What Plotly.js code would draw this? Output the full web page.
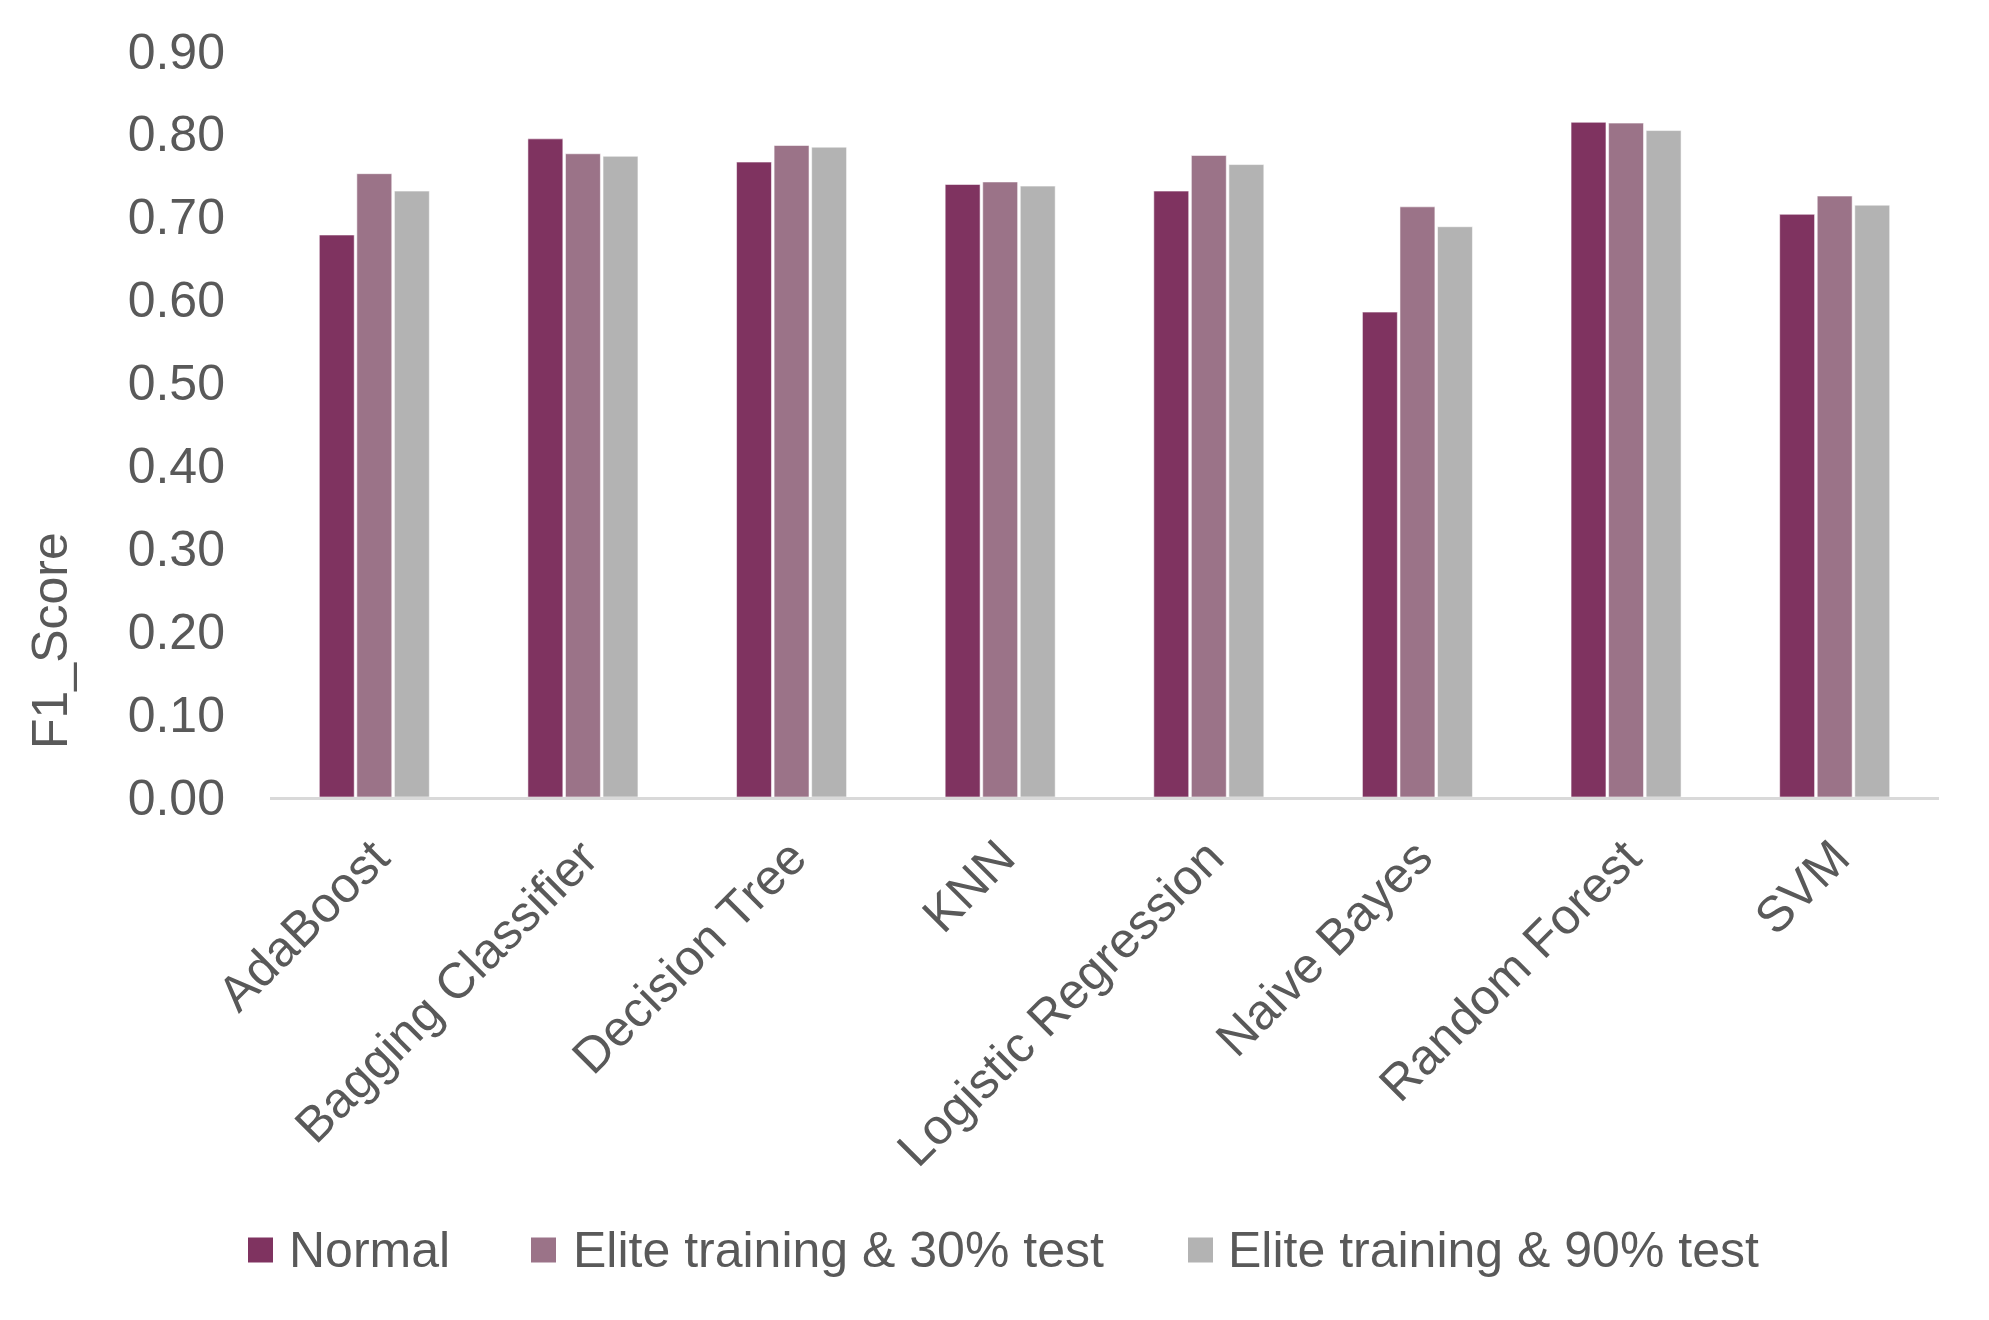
<!DOCTYPE html>
<html>
<head>
<meta charset="utf-8">
<script src="https://cdn.plot.ly/plotly-3.0.1.min.js"></script>
<style>
html,body{margin:0;padding:0;background:#fff;}
#chart{width:1989px;height:1320px;}
</style>
</head>
<body>
<div id="chart"></div>
<script>
const categories = ["AdaBoost","Bagging Classifier","Decision Tree","KNN","Logistic Regression","Naive Bayes","Random Forest","SVM"];
const seriesNames = ["Normal","Elite training & 30% test","Elite training & 90% test"];
const normalVals = [0.678,0.794,0.766,0.739,0.731,0.585,0.814,0.703];
const elite30Vals = [0.752,0.776,0.786,0.742,0.774,0.712,0.813,0.725];
const elite90Vals = [0.731,0.773,0.784,0.737,0.763,0.688,0.804,0.714];
const seriesColors = ["#7F3360","#9B7388","#B3B3B3"];
const yTickVals = [0,0.1,0.2,0.3,0.4,0.5,0.6,0.7,0.8,0.9];
const yTitle = "F1_Score";

const W = 1989, H = 1320;
const M = {l:270, r:50, t:51, b:523};
const PW = W - M.l - M.r, PH = H - M.t - M.b;
const px2x = p => (p - M.l) / PW;
const py2y = p => (H - M.b - p) / PH;

const FONT = "Liberation Sans, Arial, sans-serif";
const TXT = "#595959";

const allVals = [normalVals, elite30Vals, elite90Vals];
const traces = allVals.map((v,i) => ({
  type:"bar",
  name: seriesNames[i],
  x: categories,
  y: v,
  marker:{color: seriesColors[i], line:{color:"rgba(255,255,255,0.55)", width:1}},
  showlegend:false,
  hoverinfo:"skip"
}));

// custom legend
const legSquares = [248, 531, 1188];
const legText = [287, 571, 1226];
const legY = 1250;
const shapes = [], annotations = [];
seriesNames.forEach((n,i) => {
  shapes.push({type:"rect", xref:"paper", yref:"paper",
    x0: px2x(legSquares[i]), x1: px2x(legSquares[i]+25),
    y0: py2y(legY-12.5), y1: py2y(legY+12.5),
    fillcolor: seriesColors[i], line:{width:0}});
  annotations.push({xref:"paper", yref:"paper", x: px2x(legText[i]), y: py2y(legY),
    xanchor:"left", yanchor:"middle", showarrow:false, text: n,
    font:{family:FONT, size:50, color:TXT}});
});
annotations.push({xref:"paper", yref:"paper", x: px2x(50), y: py2y(641),
  xanchor:"center", yanchor:"middle", showarrow:false, text: yTitle, textangle:-90,
  font:{family:FONT, size:50, color:TXT}});

const layout = {
  width:W, height:H,
  margin:M,
  paper_bgcolor:"#fff", plot_bgcolor:"#fff",
  font:{family:FONT, size:50, color:TXT},
  barmode:"group",
  bargap:0.46,
  bargroupgap:0.07,
  showlegend:false,
  xaxis:{
    showline:true, linecolor:"#d9d9d9", linewidth:3,
    showgrid:false, zeroline:false, ticks:"",
    tickangle:-45, ticklabelstandoff:8,
    tickfont:{family:FONT, size:50, color:TXT}
  },
  yaxis:{
    range:[0,0.9], tickvals:yTickVals, tickformat:".2f",
    showgrid:false, zeroline:false, showline:false, ticks:"",
    ticklabelstandoff:44,
    tickfont:{family:FONT, size:50, color:TXT}
  },
  shapes: shapes,
  annotations: annotations
};

Plotly.newPlot("chart", traces, layout, {displayModeBar:false, staticPlot:true});
</script>
</body>
</html>
